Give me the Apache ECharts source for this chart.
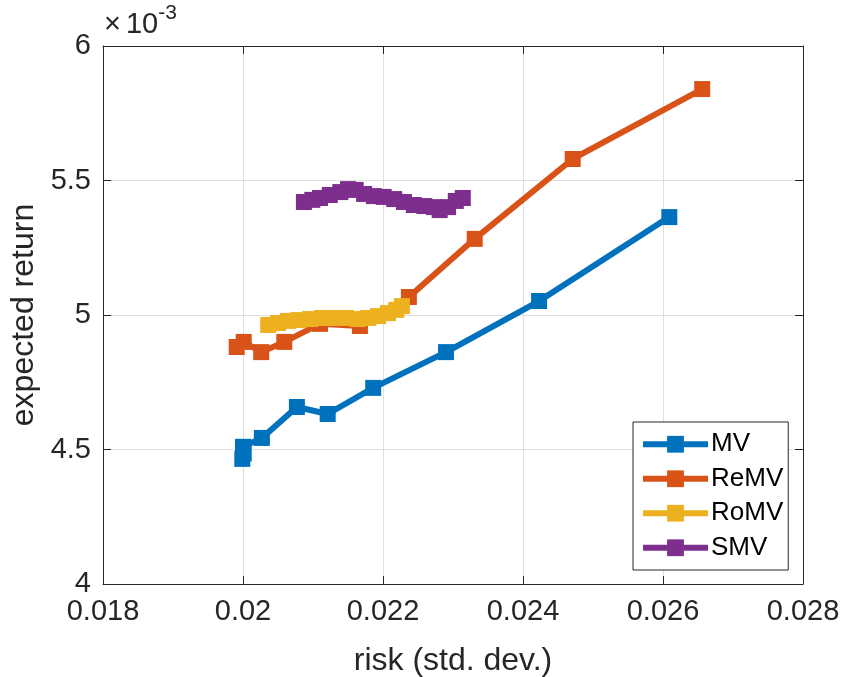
<!DOCTYPE html>
<html>
<head>
<meta charset="utf-8">
<script src="https://cdn.jsdelivr.net/npm/echarts@6/dist/echarts.min.js"></script>
<style>
  html, body { margin: 0; padding: 0; background: #fff; }
  #chart { width: 845px; height: 677px; }
</style>
</head>
<body>
<div id="chart"></div>
<script>
// risk (std. dev.) and expected return for each model
const mvRisk = [0.01999, 0.02001, 0.02000, 0.02027, 0.02077, 0.02121, 0.02186, 0.02290, 0.02423, 0.02609];
const mvRet  = [0.004465, 0.004485, 0.004510, 0.004543, 0.004658, 0.004632, 0.004729, 0.004862, 0.005052, 0.005364];

const remvRisk = [0.01991, 0.02001, 0.02026, 0.02059, 0.02110, 0.02167, 0.02237, 0.02331, 0.02471, 0.02656];
const remvRet  = [0.004881, 0.004900, 0.004862, 0.004900, 0.004967, 0.004959, 0.005067, 0.005283, 0.005580, 0.005840];

const romvRisk = [0.02036, 0.02050, 0.02064, 0.02079, 0.02096, 0.02113, 0.02130, 0.02147, 0.02164, 0.02179, 0.02193, 0.02207, 0.02219, 0.02227];
const romvRet  = [0.004963, 0.004970, 0.004978, 0.004981, 0.004985, 0.004989, 0.004989, 0.004989, 0.004985, 0.004989, 0.004996, 0.005007, 0.005019, 0.005033];

const smvRisk = [0.02087, 0.02099, 0.02110, 0.02124, 0.02139, 0.02150, 0.02161, 0.02173, 0.02187, 0.02201, 0.02216, 0.02230, 0.02244, 0.02259, 0.02273, 0.02281, 0.02293, 0.02304, 0.02314];
const smvRet  = [0.005420, 0.005428, 0.005435, 0.005446, 0.005457, 0.005468, 0.005465, 0.005450, 0.005442, 0.005439, 0.005431, 0.005420, 0.005409, 0.005405, 0.005401, 0.005390, 0.005401, 0.005424, 0.005435];

const seriesNames = ['MV', 'ReMV', 'RoMV', 'SMV'];
const colors = ['#0072BD', '#D95319', '#EDB120', '#7E2F8E'];

const pairs = (xs, ys) => xs.map((x, i) => [x, ys[i]]);
const allData = [pairs(mvRisk, mvRet), pairs(remvRisk, remvRet), pairs(romvRisk, romvRet), pairs(smvRisk, smvRet)];

const axisColor = '#262626';
const fontFam = 'Liberation Sans, Arial, Helvetica, sans-serif';

const chart = echarts.init(document.getElementById('chart'));

const series = seriesNames.map((name, i) => ({
  name: name,
  type: 'line',
  data: allData[i],
  symbol: 'rect',
  symbolSize: 16,
  lineStyle: { width: 6, color: colors[i] },
  itemStyle: { color: colors[i] },
  animation: false
}));

const option = {
  backgroundColor: '#fff',
  color: colors,
  grid: { left: 103, right: 42, top: 46, bottom: 93, containLabel: false, outerBoundsMode: 'none' },
  xAxis: [{
    type: 'value',
    min: 0.018, max: 0.028, interval: 0.002,
    name: 'risk (std. dev.)',
    nameLocation: 'middle',
    nameGap: 61,
    nameTextStyle: { fontSize: 32, color: axisColor, fontFamily: fontFam },
    axisLine: { show: true, lineStyle: { color: axisColor, width: 1 } },
    axisTick: { show: true, inside: true, length: 8, lineStyle: { color: axisColor } },
    axisLabel: { fontSize: 29, color: axisColor, fontFamily: fontFam, margin: 13,
      formatter: v => String(parseFloat(v.toFixed(4))) },
    splitLine: { show: true, lineStyle: { color: '#dfdfdf', width: 1 } }
  }, {
    type: 'value', position: 'top',
    min: 0.018, max: 0.028, interval: 0.002,
    axisLine: { show: true, lineStyle: { color: axisColor, width: 1 } },
    axisTick: { show: true, inside: true, length: 8, lineStyle: { color: axisColor } },
    axisLabel: { show: false },
    splitLine: { show: false }
  }],
  yAxis: [{
    type: 'value',
    min: 0.004, max: 0.006, interval: 0.0005,
    name: 'expected return',
    nameLocation: 'middle',
    nameGap: 63,
    nameTextStyle: { fontSize: 32, color: axisColor, fontFamily: fontFam },
    axisLine: { show: true, lineStyle: { color: axisColor, width: 1 } },
    axisTick: { show: true, inside: true, length: 8, lineStyle: { color: axisColor } },
    axisLabel: { fontSize: 29, color: axisColor, fontFamily: fontFam, margin: 12,
      formatter: v => String(parseFloat((v * 1000).toFixed(2))) },
    splitLine: { show: true, lineStyle: { color: '#dfdfdf', width: 1 } }
  }, {
    type: 'value', position: 'right',
    min: 0.004, max: 0.006, interval: 0.0005,
    axisLine: { show: true, lineStyle: { color: axisColor, width: 1 } },
    axisTick: { show: true, inside: true, length: 8, lineStyle: { color: axisColor } },
    axisLabel: { show: false },
    splitLine: { show: false }
  }],
  legend: {
    data: seriesNames,
    orient: 'vertical',
    left: 633,
    top: 422,
    padding: [7, 5, 7, 7],
    itemGap: 4,
    itemWidth: 65,
    itemHeight: 21,
    lineStyle: { width: 6 },
    backgroundColor: '#fff',
    borderColor: axisColor,
    borderWidth: 1,
    borderRadius: 0,
    textStyle: { fontSize: 26, color: '#000', fontFamily: fontFam, lineHeight: 30.5, padding: [0, 0, 0, -2] }
  },
  graphic: [{
    type: 'text',
    left: 104,
    top: 3,
    style: {
      text: '{a|×}{c|10}{b|-3}',
      rich: {
        a: { fontSize: 29, fill: axisColor, fontFamily: fontFam, padding: [14, 5, 0, 0] },
        c: { fontSize: 29, fill: axisColor, fontFamily: fontFam, padding: [14, 0, 0, 0] },
        b: { fontSize: 21, fill: axisColor, fontFamily: fontFam, padding: [0, 0, 8, 0] }
      }
    }
  }],
  series: series
};

chart.setOption(option);
</script>
</body>
</html>
